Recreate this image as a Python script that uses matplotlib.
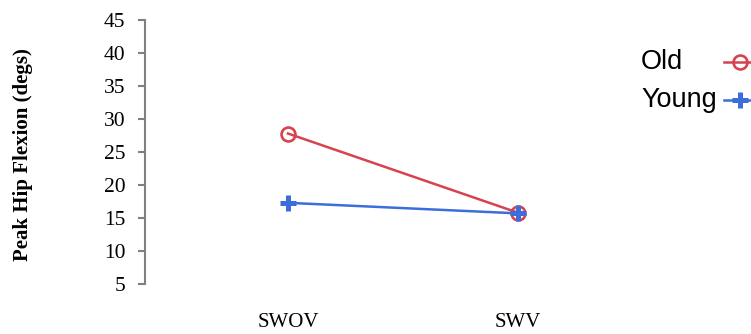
import matplotlib
matplotlib.use("Agg")
import matplotlib.pyplot as plt
from matplotlib.lines import Line2D

categories = ["SWOV", "SWV"]
old_values = [27.8, 15.8]
young_values = [17.3, 15.7]
y_ticks = [5, 10, 15, 20, 25, 30, 35, 40, 45]
legend_labels = ["Old", "Young"]

red = "#D6434F"
blue = "#3C6EDB"

W, H = 751, 334
fig = plt.figure(figsize=(W/100, H/100), dpi=100)
ax = fig.add_axes([145/W, (H-284)/H, (700-145)/W, (284-20)/H])

x = list(range(1, len(categories) + 1))
ax.plot(x, old_values, color=red, lw=1.8, marker="o", markersize=10,
        markerfacecolor="none", markeredgecolor=red, markeredgewidth=1.9, zorder=3)
ax.plot(x, young_values, color=blue, lw=1.8, zorder=2)
ax.plot(x, young_values, linestyle="none", marker="+", markersize=11,
        markeredgewidth=3.6, color=blue, zorder=4)

ax.set_ylim(5, 45)
ax.set_xlim(1 - 143/230, 1 + (700-288)/230)
ax.set_yticks(y_ticks)
ax.set_yticklabels([str(v) for v in y_ticks], fontfamily="Liberation Serif", fontsize=15.5)
ax.set_xticks(x)
ax.set_xticklabels(categories, fontfamily="Liberation Serif", fontsize=15)
ax.tick_params(axis="x", length=0, pad=21)
ax.tick_params(axis="y", length=5, width=1.5, color="#808080", direction="out", pad=9)
for s in ["top", "right", "bottom"]:
    ax.spines[s].set_visible(False)
ax.spines["left"].set_color("#808080")
ax.spines["left"].set_linewidth(1.5)

fig.text(23/W, 1 - 155/H, "Peak Hip Flexion (degs)", rotation=90,
         ha="center", va="center", fontfamily="Liberation Serif",
         fontweight="bold", fontsize=15)

# legend drawn manually: label text left, marker sample on the right
leg_y = [62, 100]
styles = [
    dict(color=red, lw=1.8, marker="o", markersize=10, markerfacecolor="none",
         markeredgewidth=1.9),
    dict(color=blue, lw=1.8, marker="+", markersize=11, markeredgewidth=3.6),
]
for lab, yy, st in zip(legend_labels, leg_y, styles):
    fig.text(641/W, 1 - yy/H, lab, ha="left", va="center",
             fontfamily="Liberation Sans", fontsize=19.5)
    fig.add_artist(Line2D([724/W, 756/W], [1 - yy/H, 1 - yy/H],
                          transform=fig.transFigure, **{k: v for k, v in st.items()
                                                       if k not in ("marker",)}))
    fig.add_artist(Line2D([740/W], [1 - yy/H], transform=fig.transFigure,
                          linestyle="none", **{k: v for k, v in st.items() if k != "lw"}))

fig.savefig("out.png", dpi=100)
